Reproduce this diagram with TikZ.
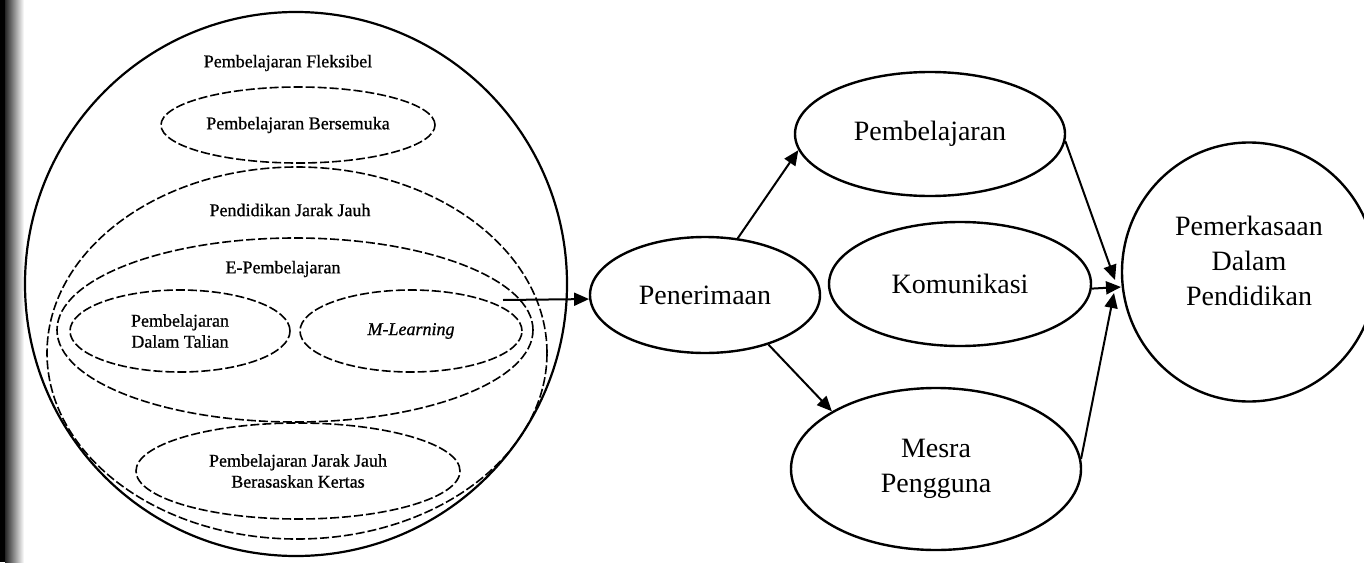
\documentclass[tikz,border=0pt]{standalone}
\usepackage{fontspec}
\setmainfont{Liberation Serif}
\newfontfamily\heavyserif[FakeBold=0.8]{Liberation Serif}
\usetikzlibrary{shapes.geometric,arrows.meta}
\newcommand\lsfont{\heavyserif\fontsize{9}{10.5}\selectfont}
\newcommand\rsfont{\fontsize{14}{17.5}\selectfont}
\begin{document}
\begin{tikzpicture}[x=0.5pt,y=-0.5pt,
  outerell/.style={draw,ellipse,line width=1.1pt,inner sep=0pt},
  dashell/.style={draw,ellipse,line width=0.8pt,dash pattern=on 4.5pt off 1.5pt,inner sep=0pt,align=center,font=\lsfont},
  bigell/.style={draw,ellipse,line width=1.2pt,inner sep=0pt,align=center,font=\rsfont},
  lbl/.style={inner sep=0pt,font=\lsfont},
  arr/.style={line width=1pt,-{Triangle[length=7.5pt,width=6.5pt]}}]
\useasboundingbox (0,0) rectangle (1364,562);
% scan edge
\fill[black] (0,0) rectangle (5,562);
\shade[left color=black!85,right color=white] (5,0) rectangle (24,562);

% left nested diagram
\node[outerell,minimum width=271pt,minimum height=272pt] (flex) at (296,284) {};
\node[lbl] (flexl) at (288,63) {Pembelajaran Fleksibel};
\node[dashell,minimum width=137pt,minimum height=38pt] (bsm) at (298,125) {Pembelajaran Bersemuka};
\node[dashell,minimum width=250pt,minimum height=186pt] (pjj) at (297,353) {};
\node[lbl] (pjjl) at (290,210) {Pendidikan Jarak Jauh};
\node[dashell,minimum width=238pt,minimum height=92pt] (ep) at (295,330) {};
\node[lbl] (epl) at (283,269) {E-Pembelajaran};
\node[dashell,minimum width=110pt,minimum height=41pt] (dt) at (180,331) {Pembelajaran\\Dalam Talian};
\node[dashell,minimum width=111pt,minimum height=41pt] (ml) at (411,331) {\itshape M-Learning};
\node[dashell,minimum width=162pt,minimum height=48pt] (pbk) at (298,471) {Pembelajaran Jarak Jauh\\Berasaskan Kertas};

% right diagram
\node[bigell,minimum width=115pt,minimum height=58pt] (pen) at (705,295) {Penerimaan};
\node[bigell,minimum width=135pt,minimum height=62pt] (pbl) at (930,134) {Pembelajaran};
\node[bigell,minimum width=131pt,minimum height=62pt] (kom) at (960,284) {Komunikasi};
\node[bigell,minimum width=145pt,minimum height=81pt] (msr) at (936,469) {Mesra\\Pengguna};
\node[bigell,minimum width=127pt,minimum height=129.5pt] (pmk) at (1249,272) {};
\node[inner sep=0pt,align=center,font=\rsfont] (pmkt) at (1249,261) {Pemerkasaan\\Dalam\\Pendidikan};

\coordinate (src) at (503,300);
\coordinate (t1) at (1115,280);
\coordinate (t2) at (1121,287);
\coordinate (t3) at (1114,293);

\draw[arr] (src) -- (pen.182.5);
\draw[arr] (pen.60) -- (pbl.187);
\draw[arr] (pen.322) -- (msr.151);
\draw[arr] (pbl.357) -- (t1);
\draw[arr] (kom.-2) -- (t2);
\draw[arr] (msr.4) -- (t3);
\end{tikzpicture}
\end{document}
